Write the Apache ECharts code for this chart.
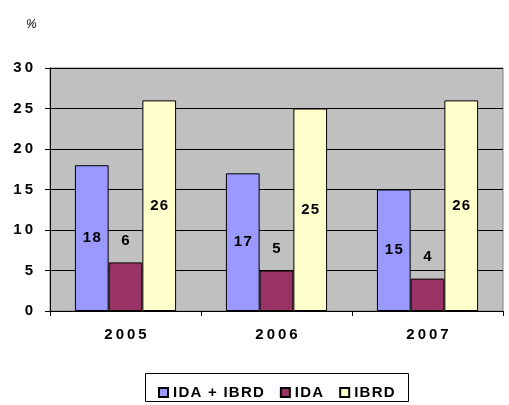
<!DOCTYPE html>
<html>
<head>
<meta charset="utf-8">
<script src="https://cdn.jsdelivr.net/npm/echarts@6/dist/echarts.min.js"></script>
<style>
  html, body { margin: 0; padding: 0; background: #fff; }
  #chart { width: 509px; height: 405px; }
</style>
</head>
<body>
<div id="chart"></div>
<script>
// data
var years = ['2005', '2006', '2007'];
var idaIbrd = [18, 17, 15];
var ida = [6, 5, 4];
var ibrd = [26, 25, 26];
var yTicks = [0, 5, 10, 15, 20, 25, 30];

var font = 'Liberation Sans, Arial, sans-serif';
var chart = echarts.init(document.getElementById('chart'));

// the original uses wide letter spacing, fake it with thin / hair spaces
var THIN = '\u2009';
var HAIR = '\u200a';
function spaced(s, sp) {
    return String(s).split('').join(sp);
}

var labelStyle = {
    show: true,
    color: '#000',
    fontFamily: font,
    fontWeight: 'bold',
    fontSize: 15,
    formatter: function (p) { return spaced(p.value, HAIR); }
};

chart.setOption({
    animation: false,
    grid: {
        left: 50, right: 6, top: 68, bottom: 94,
        show: true,
        backgroundColor: '#c0c0c0',
        borderColor: '#808080',
        borderWidth: 1
    },
    legend: {
        left: 153, top: 380,
        itemWidth: 9, itemHeight: 9, itemGap: 16,
        icon: 'rect',
        textStyle: { color: '#000', fontFamily: font, fontWeight: 'bold', fontSize: 15 },
        formatter: function (name) { return spaced(name, HAIR); },
        data: ['IDA + IBRD', 'IDA', 'IBRD']
    },
    graphic: [
        { type: 'rect', shape: { x: 145.5, y: 373.5, width: 263, height: 28 },
          style: { fill: 'none', stroke: '#000', lineWidth: 1 } },
        { type: 'text', x: 26, y: 19,
          style: { text: '%', fill: '#000', font: 'italic 12px ' + font } }
    ],
    xAxis: {
        type: 'category',
        data: years,
        axisLine: { lineStyle: { color: '#000', width: 1 } },
        axisTick: { show: true, length: 5, lineStyle: { color: '#000' } },
        axisLabel: {
            color: '#000', fontFamily: font, fontWeight: 'bold', fontSize: 15, margin: 16,
            formatter: function (v) { return spaced(v, THIN); }
        }
    },
    yAxis: {
        type: 'value',
        min: 0, max: 30, interval: 5,
        axisLine: { show: true, lineStyle: { color: '#000', width: 1 } },
        axisTick: { show: true, length: 5, lineStyle: { color: '#000' } },
        splitLine: { lineStyle: { color: '#000', width: 1 } },
        axisLabel: {
            color: '#000', fontFamily: font, fontWeight: 'bold', fontSize: 15, margin: 17,
            formatter: function (v) { return yTicks.indexOf(v) >= 0 ? spaced(v, THIN) : ''; }
        }
    },
    series: [
        {
            name: 'IDA + IBRD', type: 'bar', data: idaIbrd,
            barGap: '0%', barCategoryGap: '33%',
            itemStyle: { color: '#9999ff', borderColor: '#000', borderWidth: 1 },
            label: Object.assign({ position: 'inside' }, labelStyle)
        },
        {
            name: 'IDA', type: 'bar', data: ida,
            itemStyle: { color: '#993366', borderColor: '#000', borderWidth: 1 },
            label: Object.assign({ position: 'top', distance: 14 }, labelStyle)
        },
        {
            name: 'IBRD', type: 'bar', data: ibrd,
            itemStyle: { color: '#ffffcc', borderColor: '#000', borderWidth: 1 },
            label: Object.assign({ position: 'inside' }, labelStyle)
        }
    ]
});
</script>
</body>
</html>
